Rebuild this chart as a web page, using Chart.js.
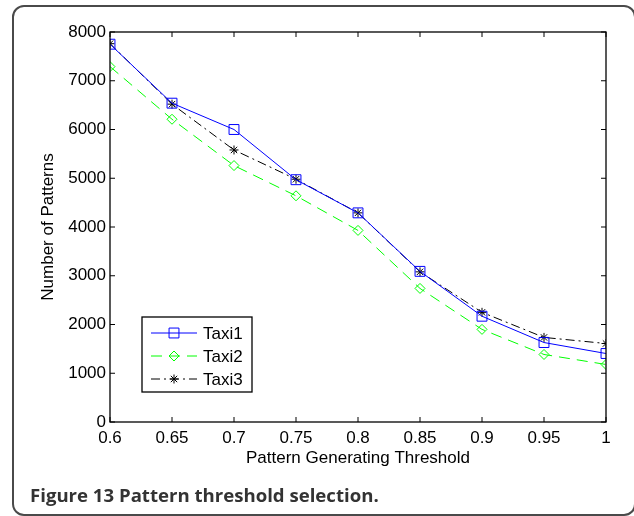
<!DOCTYPE html>
<html>
<head>
<meta charset="utf-8">
<script src="https://cdn.jsdelivr.net/npm/chart.js@4/dist/chart.umd.min.js"></script>
<style>
  html, body { margin: 0; padding: 0; background: #fff; }
  #wrap { position: relative; width: 634px; height: 516px; overflow: hidden; }
  #frame { position: absolute; left: 12px; top: 5px; width: 624px; height: 511px;
           border: 2px solid #4a4a4a; border-radius: 12px; box-sizing: border-box; }
  #cv { position: absolute; left: 0; top: 0; }
  #caption { position: absolute; left: 30px; top: 484px; font-family: "Open Sans", sans-serif;
             font-weight: bold; font-size: 18.6px; line-height: 22px; color: #333; white-space: nowrap; }
</style>
</head>
<body>
<div id="wrap">
  <div id="frame"></div>
  <canvas id="cv" width="634" height="516"></canvas>
  <div id="caption">Figure 13 Pattern threshold selection.</div>
</div>
<script>
const thresholds = [0.6, 0.65, 0.7, 0.75, 0.8, 0.85, 0.9, 0.95, 1];
const taxi1 = [7750, 6540, 6000, 4970, 4290, 3090, 2170, 1630, 1405];
const taxi2 = [7290, 6210, 5260, 4640, 3930, 2740, 1900, 1385, 1180];
const taxi3 = [7760, 6520, 5580, 4980, 4290, 3080, 2250, 1735, 1610];
const seriesNames = ['Taxi1', 'Taxi2', 'Taxi3'];
const xTicks = [0.6, 0.65, 0.7, 0.75, 0.8, 0.85, 0.9, 0.95, 1];
const yTicks = [0, 1000, 2000, 3000, 4000, 5000, 6000, 7000, 8000];

const FONT = 'Liberation Sans, Arial, sans-serif';

function pts(ys) { return thresholds.map((x, i) => ({ x: x, y: ys[i] })); }

function drawMarker(ctx, style, r, x, y, color) {
  ctx.save();
  ctx.setLineDash([]);
  ctx.strokeStyle = color;
  ctx.lineWidth = 1;
  ctx.beginPath();
  if (style === 'rect') {
    const s = Math.SQRT1_2 * r;
    ctx.rect(x - s, y - s, 2 * s, 2 * s);
  } else if (style === 'rectRot') {
    ctx.moveTo(x - r, y); ctx.lineTo(x, y - r); ctx.lineTo(x + r, y); ctx.lineTo(x, y + r); ctx.closePath();
  } else if (style === 'star') {
    for (let k = 0; k < 4; k++) {
      const a = k * Math.PI / 4;
      ctx.moveTo(x - Math.cos(a) * r, y - Math.sin(a) * r);
      ctx.lineTo(x + Math.cos(a) * r, y + Math.sin(a) * r);
    }
  }
  ctx.stroke();
  ctx.restore();
}

const boxPlugin = {
  id: 'matlabBox',
  afterDatasetsDraw(chart) {
    const { ctx, chartArea: a, scales } = chart;
    ctx.save();
    ctx.strokeStyle = '#000';
    ctx.lineWidth = 1.3;
    ctx.setLineDash([]);
    ctx.strokeRect(a.left, a.top, a.right - a.left, a.bottom - a.top);
    const tl = 5;
    ctx.lineWidth = 1;
    ctx.beginPath();
    xTicks.forEach(v => {
      const px = scales.x.getPixelForValue(v);
      ctx.moveTo(px, a.bottom); ctx.lineTo(px, a.bottom - tl);
      ctx.moveTo(px, a.top); ctx.lineTo(px, a.top + tl);
    });
    yTicks.forEach(v => {
      const py = scales.y.getPixelForValue(v);
      ctx.moveTo(a.left, py); ctx.lineTo(a.left + tl, py);
      ctx.moveTo(a.right, py); ctx.lineTo(a.right - tl, py);
    });
    ctx.stroke();

    // legend (MATLAB style: line sample + marker)
    const lx = 142, ly = 317, lw = 110, lh = 75;
    ctx.fillStyle = '#fff';
    ctx.fillRect(lx, ly, lw, lh);
    ctx.strokeStyle = '#000';
    ctx.lineWidth = 1.3;
    ctx.strokeRect(lx, ly, lw, lh);
    chart.data.datasets.forEach((ds, i) => {
      const yy = ly + 16 + i * 23;
      ctx.save();
      ctx.strokeStyle = ds.borderColor;
      ctx.lineWidth = ds.borderWidth;
      ctx.setLineDash(ds.borderDash || []);
      ctx.beginPath();
      ctx.moveTo(lx + 9, yy); ctx.lineTo(lx + 55, yy);
      ctx.stroke();
      ctx.restore();
      drawMarker(ctx, ds.pointStyle, ds.pointRadius, lx + 32, yy, ds.borderColor);
      ctx.fillStyle = '#000';
      ctx.font = '17px ' + FONT;
      ctx.textBaseline = 'middle';
      ctx.textAlign = 'left';
      ctx.fillText(ds.label, lx + 61, yy + 1);
    });
    ctx.restore();
  }
};

const ctx = document.getElementById('cv').getContext('2d');
new Chart(ctx, {
  type: 'line',
  data: {
    datasets: [
      { label: seriesNames[0], data: pts(taxi1), borderColor: '#0000ff', borderWidth: 1,
        pointStyle: 'rect', pointRadius: 7, pointBorderWidth: 1, backgroundColor: 'rgba(0,0,0,0)',
        pointBackgroundColor: 'rgba(0,0,0,0)', pointBorderColor: '#0000ff', tension: 0 },
      { label: seriesNames[1], data: pts(taxi2), borderColor: '#00ff00', borderWidth: 1, borderDash: [11, 7],
        pointStyle: 'rectRot', pointRadius: 5, pointBorderWidth: 1, backgroundColor: 'rgba(0,0,0,0)',
        pointBackgroundColor: 'rgba(0,0,0,0)', pointBorderColor: '#00ff00', tension: 0 },
      { label: seriesNames[2], data: pts(taxi3), borderColor: '#000000', borderWidth: 1, borderDash: [9, 4, 2, 4],
        pointStyle: 'star', pointRadius: 4.5, pointBorderWidth: 1, backgroundColor: 'rgba(0,0,0,0)',
        pointBackgroundColor: 'rgba(0,0,0,0)', pointBorderColor: '#000000', tension: 0 }
    ]
  },
  options: {
    responsive: false,
    animation: false,
    events: [],
    layout: { padding: { left: 0, top: 32, right: 28, bottom: 0 } },
    plugins: { legend: { display: false }, tooltip: { enabled: false } },
    scales: {
      x: {
        type: 'linear', min: 0.6, max: 1,
        afterBuildTicks: s => { s.ticks = xTicks.map(v => ({ value: v })); },
        afterFit: s => { s.height = 94; },
        grid: { display: false, drawTicks: false },
        border: { display: false },
        ticks: { color: '#000', padding: 6, font: { family: FONT, size: 17 },
                 callback: v => String(Number(v.toFixed(2))) },
        title: { display: true, text: 'Pattern Generating Threshold', color: '#000',
                 font: { family: FONT, size: 17 }, padding: { top: 0, bottom: 47 } }
      },
      y: {
        type: 'linear', min: 0, max: 8000,
        afterBuildTicks: s => { s.ticks = yTicks.map(v => ({ value: v })); },
        afterFit: s => { s.width = 110; },
        grid: { display: false, drawTicks: false },
        border: { display: false },
        ticks: { color: '#000', padding: 4, font: { family: FONT, size: 17 },
                 callback: v => String(v) },
        title: { display: true, text: 'Number of Patterns', color: '#000',
                 font: { family: FONT, size: 17 }, padding: { top: 38, bottom: 0 } }
      }
    }
  },
  plugins: [boxPlugin]
});
</script>
</body>
</html>
